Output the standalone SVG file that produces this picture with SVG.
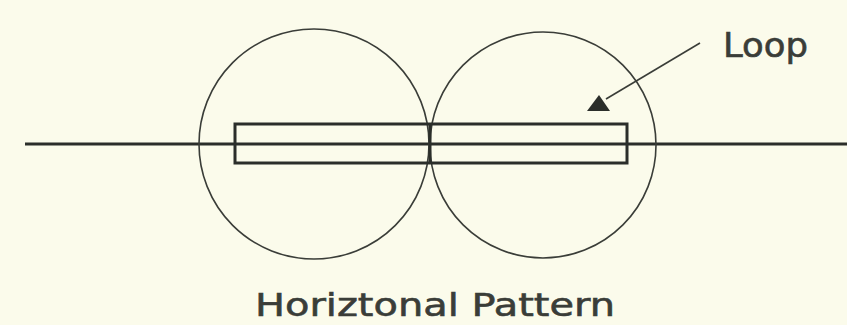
<svg xmlns="http://www.w3.org/2000/svg" width="847" height="325" viewBox="0 0 847 325">
<style>
.thin{fill:none;stroke:#3a3d38;stroke-width:1.6}
.thick{fill:none;stroke:#2b2e2a;stroke-width:3}
.lbl{font-family:"DejaVu Sans","Liberation Sans",sans-serif;fill:#3a3d38;stroke:#3a3d38;stroke-width:0.6}
</style>
<rect width="847" height="325" fill="#fbfbeb"/>
<g id="connectors">
<line class="thick" x1="25" y1="144" x2="847" y2="144"/>
<line class="thin" x1="700" y1="43" x2="606" y2="99"/>
<polygon points="587,111 610,111 599,95" fill="#2b2e2a"/>
</g>
<g id="circle-left"><circle class="thin" cx="314" cy="144" r="115"/></g>
<g id="circle-right"><circle class="thin" cx="543" cy="145" r="113"/></g>
<g id="loop"><rect class="thick" x="235" y="124" width="392" height="39"/><line class="thick" x1="430" y1="124" x2="430" y2="163"/></g>
<g id="label-loop"><text class="lbl" x="723" y="57" font-size="33" textLength="85" lengthAdjust="spacingAndGlyphs">Loop</text></g>
<g id="label-pattern"><text class="lbl" x="255" y="316" font-size="32" textLength="360" lengthAdjust="spacingAndGlyphs">Horiztonal Pattern</text></g>
</svg>
